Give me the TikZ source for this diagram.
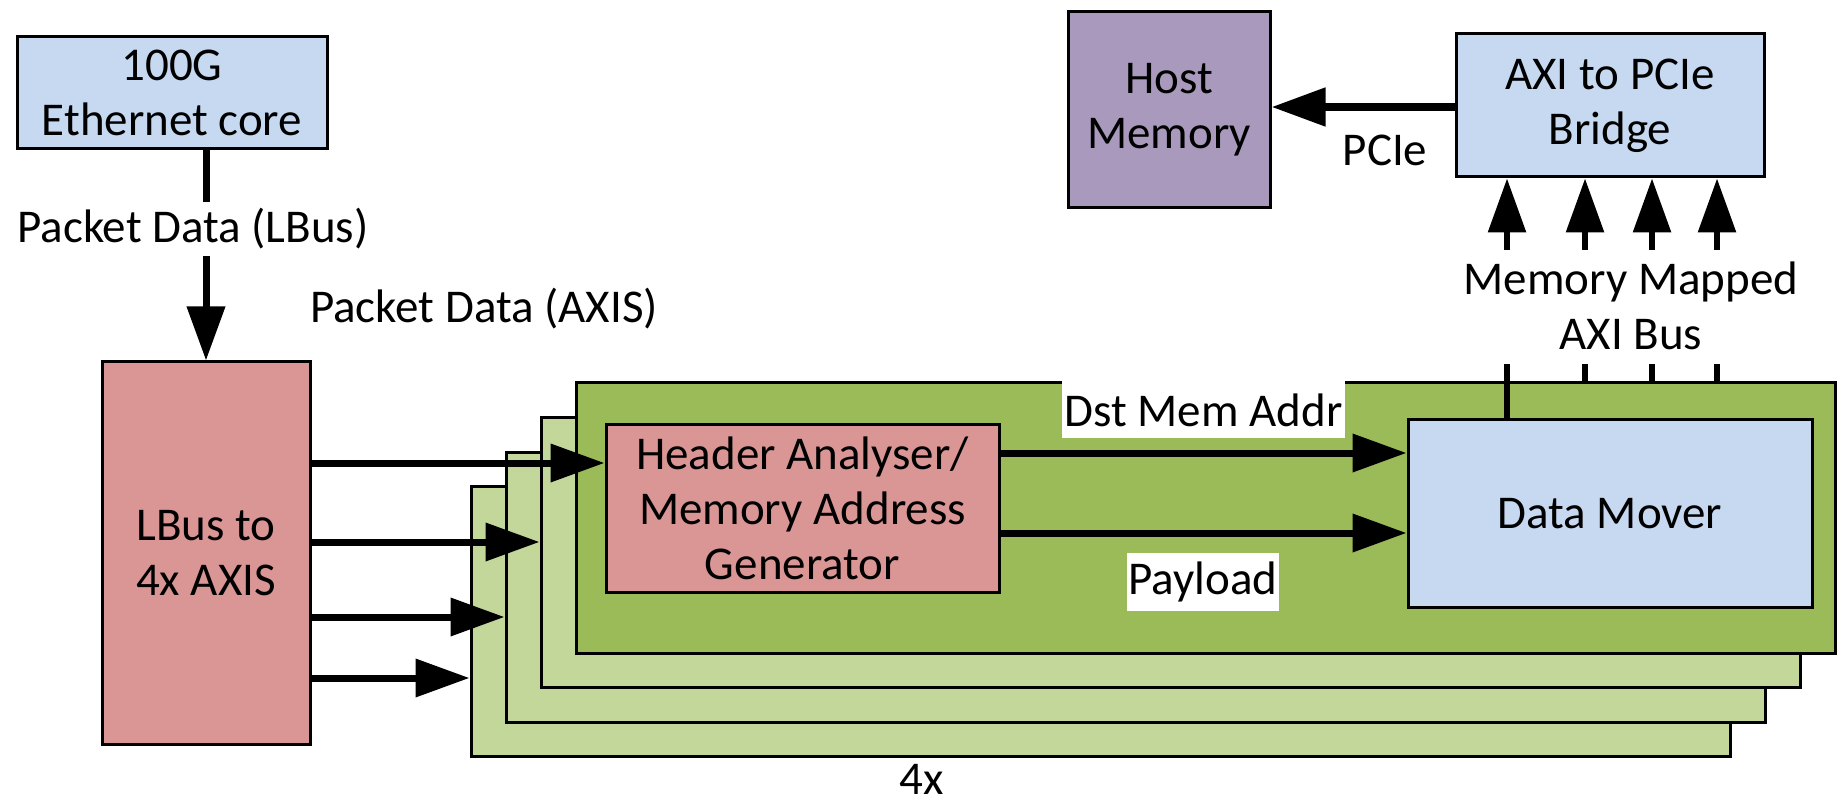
\documentclass[tikz,border=0pt]{standalone}
\usepackage{fontspec}
\setmainfont{Carlito}
\usetikzlibrary{arrows.meta}
\definecolor{boxblue}{HTML}{C6D9F1}
\definecolor{boxpink}{HTML}{D99694}
\definecolor{boxpurple}{HTML}{A99ABD}
\definecolor{layerdark}{HTML}{9BBB59}
\definecolor{layerlight}{HTML}{C4D79B}
\begin{document}
\begin{tikzpicture}[x=0.5pt, y=-0.5pt,
  every node/.style={font=\fontsize{23.5}{27.5}\selectfont, align=center, inner sep=0pt},
  block/.style={draw=black, line width=1.5pt},
  layer/.style={block, fill=layerlight, minimum width=629.5pt, minimum height=135pt},
  bus/.style={line width=3.5pt, -{Triangle[length=27pt,width=18.5pt]}},
  stub/.style={line width=3pt},
  tag/.style={fill=white}
]
\fill[white] (0,0) rectangle (1839,806);
\useasboundingbox (0,0) rectangle (1839,806);

% four stacked processing lanes, back to front
\node[layer] (layer4) at (1100.5,621.5) {};
\node[layer] (layer3) at (1135.5,587) {};
\node[layer] (layer2) at (1170.5,552.5) {};
\node[layer, fill=layerdark] (layer1) at (1205.5,518) {};

% functional blocks
\node[block, fill=boxblue, minimum width=155pt, minimum height=56pt] (eth) at (172,93) {100G\\Ethernet core};
\node[block, fill=boxpink, minimum width=104pt, minimum height=191pt] (lbus) at (206,553) {LBus to\\4x AXIS};
\node[block, fill=boxpurple, minimum width=101pt, minimum height=98pt] (host) at (1169,110) {Host\\Memory};
\node[block, fill=boxblue, minimum width=154pt, minimum height=71.5pt] (bridge) at (1610,105.5) {AXI to PCIe\\Bridge};
\node[block, fill=boxpink, minimum width=196.5pt, minimum height=83.5pt] (hdr) at (802.5,508.5) {Header Analyser/\\Memory Address\\Generator};
\node[block, fill=boxblue, minimum width=202pt, minimum height=93.5pt] (dm) at (1610,513.5) {Data Mover};

% labels
\node[inner sep=3pt] (lbuslbl) at (193,229) {Packet Data (LBus)};
\node (axislbl) at (484,309) {Packet Data (AXIS)};
\node (pcielbl) at (1385,150) {PCIe};
\node (mmlbl) at (1631,306) {Memory Mapped\\AXI Bus};
\node[tag, minimum width=141.5pt, minimum height=28.5pt] (dstlbl) at (1203.5,410) {Dst Mem Addr};
\node[tag, minimum width=76pt, minimum height=29pt] (paylbl) at (1203,582) {Payload};
\node (cnt) at (922,779) {4x};

% row heights of the horizontal buses
\coordinate (a1) at (0,463);
\coordinate (a2) at (0,542);
\coordinate (a3) at (0,617);
\coordinate (a4) at (0,678);
\coordinate (h1) at (0,453);
\coordinate (h2) at (0,533);
\coordinate (p1) at (0,107);
% memory mapped AXI bus lanes
\coordinate (u1) at (1507,250);
\coordinate (u2) at (1585,250);
\coordinate (u3) at (1652,250);
\coordinate (u4) at (1717,250);
\coordinate (s1) at (1507,364);
\coordinate (s2) at (1585,364);
\coordinate (s3) at (1652,364);
\coordinate (s4) at (1717,364);

% connectors
\draw[stub, line width=3.5pt] (eth.south -| lbus.north) -- (lbuslbl.north -| lbus.north);
\draw[bus] (lbuslbl.south -| lbus.north) -- (lbus.north);

\draw[bus] (lbus.east |- a1) -- (hdr.west |- a1);
\draw[bus] (lbus.east |- a2) -- (layer2.west |- a2);
\draw[bus] (lbus.east |- a3) -- (layer3.west |- a3);
\draw[bus] (lbus.east |- a4) -- (layer4.west |- a4);

\draw[bus] (hdr.east |- h1) -- (dm.west |- h1);
\draw[bus] (hdr.east |- h2) -- (dm.west |- h2);

\draw[bus, line width=4pt] (bridge.west |- p1) -- (host.east |- p1);

\foreach \i in {1,...,4} {
  \draw[bus, line width=3pt] (u\i) -- (u\i |- bridge.south);
}
\draw[stub] (s1) -- (s1 |- dm.north);
\foreach \i in {2,3,4} {
  \draw[stub] (s\i) -- (s\i |- layer1.north);
}
\end{tikzpicture}
\end{document}
